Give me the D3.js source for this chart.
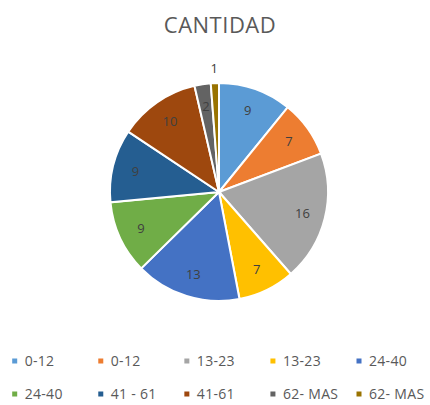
<!DOCTYPE html>
<html><head><meta charset="utf-8">
<script src="https://cdn.jsdelivr.net/npm/d3@7"></script>
<style>body{margin:0;background:#fff}svg{display:block}</style>
</head><body>
<svg id="c" width="430" height="405"></svg>
<script>
const title = "CANTIDAD";
const categories = ["0-12","0-12","13-23","13-23","24-40","24-40","41 - 61","41-61","62- MAS","62- MAS"];
const values = [9,7,16,7,13,9,9,10,2,1];
const colors = ["#5B9BD5","#ED7D31","#A5A5A5","#FFC000","#4472C4","#70AD47","#255E91","#9E480E","#636363","#997300"];

const svg = d3.select("#c");
const font = "'Open Sans', 'Liberation Sans', sans-serif";
const textColor = "#595959";

svg.append("text").attr("x", 220).attr("y", 33).attr("text-anchor","middle")
  .attr("font-family", font).attr("font-size", 22).attr("letter-spacing", 0.5)
  .attr("fill", textColor).text(title);

const cx = 219, cy = 192, R = 109;
const data = values.map((v,i)=>({v, i, cat: categories[i]}));
const pie = d3.pie().value(d=>d.v).sort(null);
const arcs = pie(data);
const arc = d3.arc().innerRadius(0).outerRadius(R);
const g = svg.append("g").attr("transform", `translate(${cx},${cy})`);
g.selectAll("path").data(arcs).join("path").attr("d", arc)
  .attr("fill", d=>colors[d.data.i]).attr("stroke","#fff").attr("stroke-width",2);

const labelArc = d3.arc().innerRadius(R*0.79).outerRadius(R*0.79);
const outArc = d3.arc().innerRadius(R*1.13).outerRadius(R*1.13);
g.selectAll("text").data(arcs).join("text")
  .attr("transform", d => `translate(${(d.data.v < 2 ? outArc : labelArc).centroid(d)})`)
  .attr("text-anchor","middle").attr("dy","0.35em")
  .attr("font-family", font).attr("font-size", 13)
  .attr("fill", "#404040").text(d=>d.data.v);

const legendX = d3.scaleLinear().domain([0,4]).range([14.7, 359]);
const legendY = d3.scaleLinear().domain([0,1]).range([361, 394]);
const lg = svg.append("g");
const items = lg.selectAll("g").data(data).join("g")
  .attr("transform", d=>`translate(${legendX(d.i % 5)},${legendY(Math.floor(d.i/5))})`);
items.append("rect").attr("x",-2.5).attr("y",-2.5).attr("width",5).attr("height",5).attr("fill", d=>colors[d.i]);
items.append("text").attr("x",10).attr("y",0).attr("dy","0.35em")
  .attr("font-family", font).attr("font-size", 14).attr("letter-spacing", 0.3)
  .attr("fill", textColor).text(d=>d.cat);
</script>
</body></html>
